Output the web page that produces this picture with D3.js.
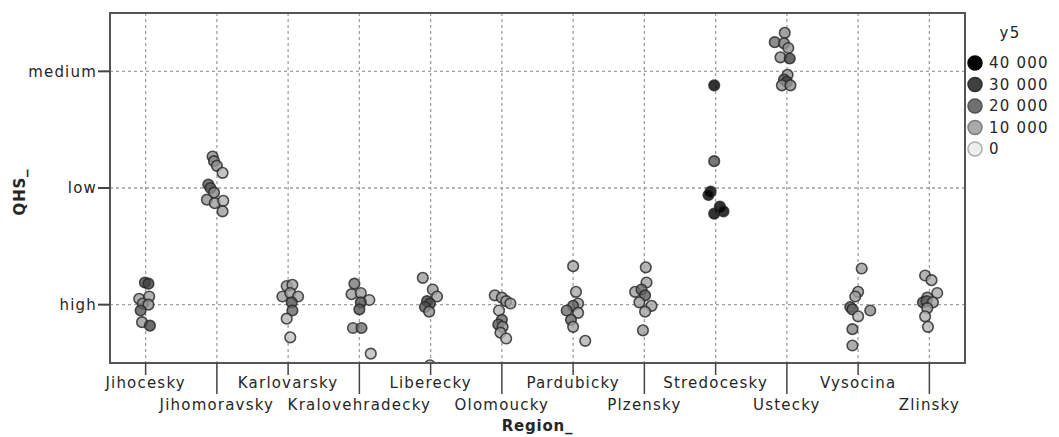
<!DOCTYPE html>
<html>
<head>
<meta charset="utf-8">
<script src="https://cdn.jsdelivr.net/npm/d3@7"></script>
<style>
  body { margin: 0; background: #fff; }
  text { font-family: "DejaVu Sans", sans-serif; fill: #262626; }
</style>
</head>
<body>
<div id="chart"></div>
<script>
// categories
const regions = ['Jihocesky', 'Jihomoravsky', 'Karlovarsky', 'Kralovehradecky', 'Liberecky',
  'Olomoucky', 'Pardubicky', 'Plzensky', 'Stredocesky', 'Ustecky', 'Vysocina', 'Zlinsky'];
const qhsLevels = ['high', 'low', 'medium'];
const legendValues = [40000, 30000, 20000, 10000, 0];

// points per region: [qhs, y5, jitterX, jitterY] (jitter in category units)
const jihocesky = [['high', 28000, -0.01, 0.19], ['high', 30000, 0.04, 0.18], ['high', 12000, -0.09, 0.05],
  ['high', 12000, 0.05, 0.07], ['high', 15000, -0.04, 0.01], ['high', 14000, 0.04, 0.0],
  ['high', 25000, -0.07, -0.05], ['high', 13000, -0.05, -0.15], ['high', 28000, 0.06, -0.18]];
const jihomoravsky = [['low', 15000, -0.06, 0.27], ['low', 16000, -0.04, 0.23], ['low', 14000, 0.0, 0.19],
  ['low', 8000, 0.08, 0.13], ['low', 26000, -0.12, 0.03], ['low', 24000, -0.09, 0.0],
  ['low', 16000, -0.04, -0.04], ['low', 14000, -0.14, -0.10], ['low', 12000, -0.03, -0.13],
  ['low', 9000, 0.09, -0.11], ['low', 12000, 0.08, -0.20]];
const karlovarsky = [['high', 12000, -0.02, 0.16], ['high', 11000, 0.06, 0.17], ['high', 12000, -0.08, 0.07],
  ['high', 12000, 0.03, 0.10], ['high', 11000, 0.14, 0.07], ['high', 26000, 0.05, 0.02],
  ['high', 22000, 0.06, -0.05], ['high', 8000, -0.02, -0.12], ['high', 6000, 0.03, -0.28]];
const kralovehradecky = [['high', 18000, -0.07, 0.18], ['high', 12000, -0.11, 0.09], ['high', 12000, 0.02, 0.10],
  ['high', 9000, 0.14, 0.04], ['high', 26000, 0.02, 0.02], ['high', 25000, 0.0, -0.04],
  ['high', 14000, -0.09, -0.20], ['high', 20000, 0.03, -0.20], ['high', 7000, 0.16, -0.42]];
const liberecky = [['high', 12000, -0.11, 0.23], ['high', 12000, 0.03, 0.13], ['high', 11000, 0.09, 0.07],
  ['high', 28000, -0.05, 0.03], ['high', 28000, -0.01, 0.01], ['high', 26000, -0.08, -0.02],
  ['high', 14000, -0.02, -0.06], ['high', 7000, -0.01, -0.52]];
const olomoucky = [['high', 12000, -0.10, 0.08], ['high', 11000, 0.0, 0.06], ['high', 12000, 0.06, 0.03],
  ['high', 11000, 0.12, 0.01], ['high', 8000, -0.04, -0.05], ['high', 22000, 0.0, -0.13],
  ['high', 24000, -0.05, -0.17], ['high', 14000, 0.01, -0.19], ['high', 12000, -0.02, -0.24],
  ['high', 8000, 0.06, -0.29]];
const pardubicky = [['high', 10000, 0.0, 0.33], ['high', 10000, 0.04, 0.11], ['high', 11000, 0.07, 0.01],
  ['high', 22000, 0.0, -0.01], ['high', 20000, -0.09, -0.05], ['high', 10000, 0.07, -0.07],
  ['high', 22000, -0.03, -0.13], ['high', 11000, 0.0, -0.19], ['high', 9000, 0.17, -0.31]];
const plzensky = [['high', 11000, 0.02, 0.32], ['high', 11000, 0.03, 0.19], ['high', 12000, -0.13, 0.11],
  ['high', 22000, -0.04, 0.13], ['high', 24000, 0.01, 0.08], ['high', 12000, -0.07, 0.02],
  ['high', 11000, 0.10, -0.01], ['high', 11000, 0.01, -0.06], ['high', 12000, -0.02, -0.22]];
const stredocesky = [['medium', 40000, -0.02, -0.12], ['low', 25000, -0.02, 0.23], ['low', 40000, -0.07, -0.03],
  ['low', 40000, -0.10, -0.06], ['low', 40000, 0.06, -0.16], ['low', 40000, -0.02, -0.22],
  ['low', 40000, 0.11, -0.20]];
const ustecky = [['medium', 15000, -0.03, 0.33], ['medium', 20000, -0.17, 0.25], ['medium', 18000, -0.04, 0.24],
  ['medium', 14000, 0.02, 0.20], ['medium', 14000, -0.09, 0.12], ['medium', 30000, 0.04, 0.11],
  ['medium', 14000, 0.01, -0.03], ['medium', 26000, -0.04, -0.07], ['medium', 28000, 0.0, -0.09],
  ['medium', 14000, -0.07, -0.12], ['medium', 14000, 0.05, -0.12]];
const vysocina = [['high', 12000, 0.05, 0.31], ['high', 12000, 0.0, 0.11], ['high', 12000, -0.04, 0.07],
  ['high', 26000, -0.11, -0.02], ['high', 22000, -0.08, -0.04], ['high', 15000, 0.17, -0.05],
  ['high', 8000, 0.0, -0.10], ['high', 16000, -0.08, -0.21], ['high', 13000, -0.08, -0.35]];
const zlinsky = [['high', 11000, -0.06, 0.25], ['high', 10000, 0.03, 0.21], ['high', 10000, 0.11, 0.10],
  ['high', 12000, -0.03, 0.06], ['high', 24000, -0.09, 0.02], ['high', 22000, -0.04, 0.03],
  ['high', 12000, 0.05, 0.02], ['high', 13000, -0.03, -0.03], ['high', 9000, -0.06, -0.10],
  ['high', 8000, -0.02, -0.19]];

const pointsByRegion = [jihocesky, jihomoravsky, karlovarsky, kralovehradecky, liberecky, olomoucky,
  pardubicky, plzensky, stredocesky, ustecky, vysocina, zlinsky];

const points = [];
pointsByRegion.forEach((list, i) => {
  list.forEach(p => points.push({ region: regions[i], qhs: p[0], y5: p[1], jx: p[2], jy: p[3] }));
});

const width = 1059, height = 437;
const plotLeft = 110, plotRight = 965, plotTop = 13, plotBottom = 363;

const svg = d3.select('#chart').append('svg')
  .attr('width', width)
  .attr('height', height);

// index scales so jitter can be added in category units
const x = d3.scaleLinear().domain([-0.5, regions.length - 0.5]).range([plotLeft, plotRight]);
const y = d3.scaleLinear().domain([-0.5, qhsLevels.length - 0.5]).range([plotBottom, plotTop]);
const xPos = (r, j) => x(regions.indexOf(r) + (j || 0));
const yPos = (q, j) => y(qhsLevels.indexOf(q) + (j || 0));

const color = d3.scaleLinear()
  .domain([0, 10000, 20000, 30000, 40000])
  .range(['#eeeeee', '#a9a9a9', '#707070', '#404040', '#000000']);

// grid
const grid = svg.append('g')
  .attr('stroke', '#a0a0a0')
  .attr('stroke-width', 1.3)
  .attr('stroke-dasharray', '3,3');

grid.selectAll('.vg').data(regions).enter().append('line')
  .attr('x1', d => xPos(d)).attr('x2', d => xPos(d))
  .attr('y1', plotTop).attr('y2', plotBottom);

grid.selectAll('.hg').data(qhsLevels).enter().append('line')
  .attr('x1', plotLeft).attr('x2', plotRight)
  .attr('y1', d => yPos(d)).attr('y2', d => yPos(d));

// points
svg.append('clipPath').attr('id', 'plotclip')
  .append('rect').attr('x', plotLeft).attr('y', plotTop)
  .attr('width', plotRight - plotLeft).attr('height', plotBottom - plotTop);

svg.append('g')
  .attr('clip-path', 'url(#plotclip)')
  .selectAll('circle')
  .data(points)
  .enter().append('circle')
  .attr('cx', d => xPos(d.region, d.jx))
  .attr('cy', d => yPos(d.qhs, d.jy))
  .attr('r', 5.3)
  .attr('fill', d => color(d.y5))
  .attr('fill-opacity', 0.8)
  .attr('stroke', '#262626')
  .attr('stroke-opacity', 0.8)
  .attr('stroke-width', 1.6);

// frame
svg.append('rect')
  .attr('x', plotLeft).attr('y', plotTop)
  .attr('width', plotRight - plotLeft).attr('height', plotBottom - plotTop)
  .attr('fill', 'none')
  .attr('stroke', '#555')
  .attr('stroke-width', 2);

// x axis ticks and labels (alternating rows)
const xAxis = svg.append('g');
xAxis.selectAll('line').data(regions).enter().append('line')
  .attr('x1', d => xPos(d)).attr('x2', d => xPos(d))
  .attr('y1', plotBottom)
  .attr('y2', (d, i) => i % 2 === 0 ? 375 : 394)
  .attr('stroke', '#444')
  .attr('stroke-width', 1.5);

xAxis.selectAll('text').data(regions).enter().append('text')
  .attr('x', d => xPos(d))
  .attr('y', (d, i) => i % 2 === 0 ? 388 : 410)
  .attr('text-anchor', 'middle')
  .style('font-size', '15px')
  .style('letter-spacing', '1.2px')
  .text(d => d);

svg.append('text')
  .attr('x', (plotLeft + plotRight) / 2)
  .attr('y', 431)
  .attr('text-anchor', 'middle')
  .style('font-size', '15px')
  .style('font-weight', 'bold')
  .style('letter-spacing', '0.8px')
  .text('Region_');

// y axis ticks and labels
const yAxis = svg.append('g');
yAxis.selectAll('line').data(qhsLevels).enter().append('line')
  .attr('x1', 98).attr('x2', plotLeft)
  .attr('y1', d => yPos(d)).attr('y2', d => yPos(d))
  .attr('stroke', '#444')
  .attr('stroke-width', 2);

yAxis.selectAll('text').data(qhsLevels).enter().append('text')
  .attr('x', 97)
  .attr('y', d => yPos(d))
  .attr('dy', '0.35em')
  .attr('text-anchor', 'end')
  .style('font-size', '15px')
  .style('letter-spacing', '1.2px')
  .text(d => d);

svg.append('text')
  .attr('transform', 'translate(25,192) rotate(-90)')
  .attr('text-anchor', 'middle')
  .style('font-size', '15px')
  .style('font-weight', 'bold')
  .style('letter-spacing', '0.8px')
  .text('QHS_');

// legend
const legend = svg.append('g');
legend.append('text')
  .attr('x', 1010).attr('y', 38)
  .attr('text-anchor', 'middle')
  .style('font-size', '15px')
  .style('letter-spacing', '1.2px')
  .text('y5');

const item = legend.selectAll('.item').data(legendValues).enter().append('g')
  .attr('transform', (d, i) => `translate(975,${63 + i * 21.5})`);

item.append('circle')
  .attr('r', 7)
  .attr('fill', d => color(d))
  .attr('stroke', d => d3.color(color(d)).darker(0.9))
  .attr('stroke-width', 1.5);

item.append('text')
  .attr('x', 14)
  .attr('dy', '0.35em')
  .style('font-size', '15px')
  .style('letter-spacing', '1.2px')
  .text(d => d3.format(',')(d).replace(/,/g, ' '));
</script>
</body>
</html>
